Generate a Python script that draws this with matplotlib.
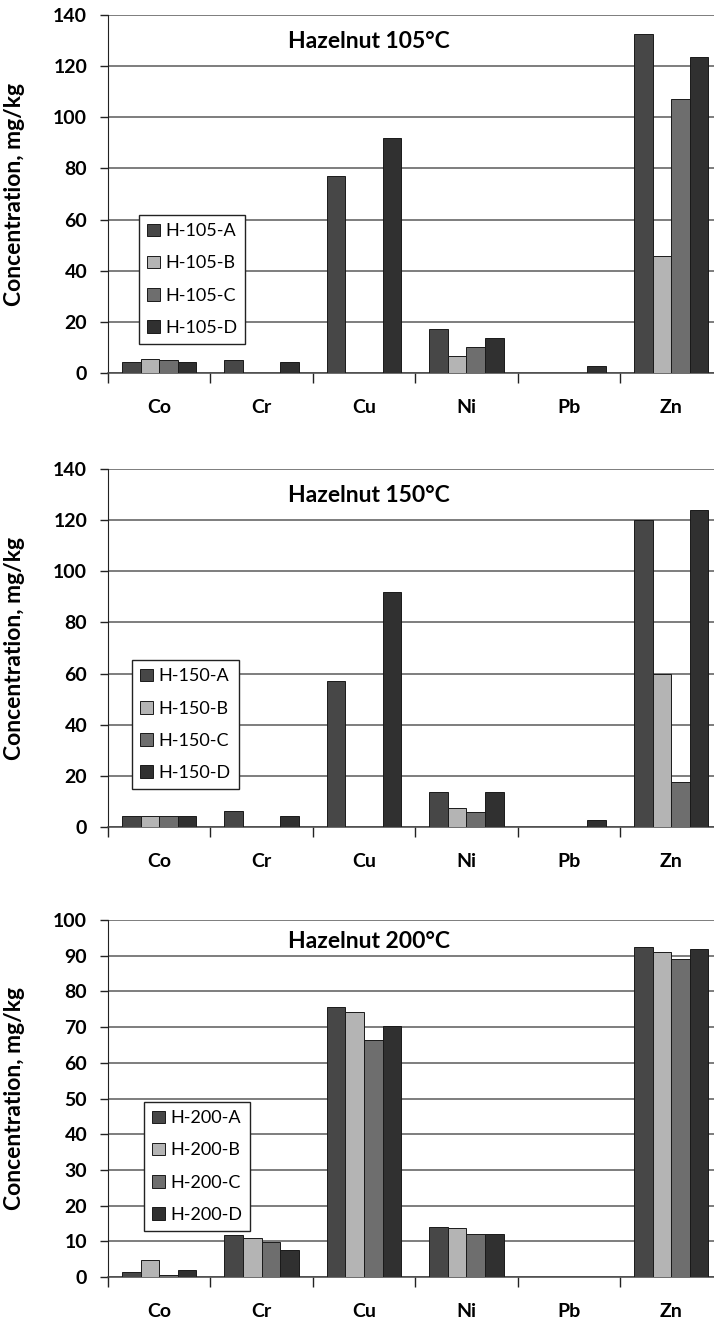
import matplotlib
matplotlib.use("Agg")
import matplotlib.pyplot as plt
import numpy as np

plt.rcParams['font.family'] = ['Lato', 'DejaVu Sans']

elements = ["Co", "Cr", "Cu", "Ni", "Pb", "Zn"]

# 105 C
h105_a = [4.3, 5.1, 77.1, 17.4, 0.0, 132.6]
h105_b = [5.6, 0.0, 0.0, 6.6, 0.0, 45.8]
h105_c = [5.1, 0.0, 0.0, 10.0, 0.0, 107.3]
h105_d = [4.3, 4.3, 91.9, 13.5, 2.6, 123.7]

# 150 C
h150_a = [4.4, 6.1, 56.9, 13.7, 0.0, 120.0]
h150_b = [4.4, 0.0, 0.0, 7.4, 0.0, 60.0]
h150_c = [4.4, 0.0, 0.0, 5.7, 0.0, 17.6]
h150_d = [4.4, 4.4, 91.8, 13.7, 2.9, 124.0]

# 200 C
h200_a = [1.4, 11.8, 75.5, 14.0, 0.0, 92.5]
h200_b = [4.7, 10.9, 74.3, 13.7, 0.0, 91.0]
h200_c = [0.6, 9.9, 66.3, 12.0, 0.0, 89.1]
h200_d = [2.1, 7.5, 70.4, 12.0, 0.0, 91.8]

colors = ["#474747", "#b4b4b4", "#6e6e6e", "#303030"]

W, H = 714, 1326


def draw_panel(rect, series, labels, title, ymax, ystep, leg_xy, title_y):
    ax = plt.gcf().add_axes(rect)
    n = len(series)
    bw = 1.0 / (n + 1.5)  # excel gap width 150%
    x = np.arange(len(elements))
    for j, (vals, lab) in enumerate(zip(series, labels)):
        ax.bar(x + 0.75 * bw + bw * (j + 0.5), vals, width=bw,
               color=colors[j], edgecolor="#1a1a1a", linewidth=0.7,
               label=lab, zorder=3)

    ax.set_xlim(0, (W - 108) / 102.4)
    ax.set_ylim(0, ymax)
    ax.set_yticks(np.arange(0, ymax + 0.1, ystep))
    ax.grid(axis="y", color="#5a5a5a", linewidth=1.1, zorder=0)

    ax.set_xticks(x + 0.5)
    ax.set_xticklabels(elements)
    ax.set_xticks(np.arange(0, len(elements)), minor=True)
    ax.tick_params(axis="x", which="major", length=0, pad=19,
                   labelsize=14)
    ax.tick_params(axis="x", which="minor", length=7, width=1,
                   color="#222222", direction="out")
    ax.tick_params(axis="y", length=6, width=1, color="#222222",
                   pad=9, labelsize=14)
    for t in ax.get_xticklabels() + ax.get_yticklabels():
        t.set_fontweight("bold")

    for s in ["top", "right"]:
        ax.spines[s].set_visible(False)
    ax.spines["left"].set_color("#222222")
    ax.spines["bottom"].set_color("#444444")
    ax.spines["bottom"].set_linewidth(1.1)

    ax.set_ylabel("Concentration, mg/kg", fontsize=16.5, fontweight="bold")
    ax.yaxis.set_label_coords(-(108 - 25) / (W - 108), 0.5)

    ax.text((369 - 108) / (W - 108), title_y, title, transform=ax.transAxes,
            ha="center", va="center", fontsize=16.5, fontweight="bold")

    leg = ax.legend(loc="upper left", bbox_to_anchor=leg_xy,
                    borderaxespad=0, fancybox=False, framealpha=1,
                    edgecolor="#222222", fontsize=13, labelspacing=0.9,
                    handlelength=0.7, handleheight=0.7, handletextpad=0.3,
                    borderpad=0.45)
    leg.get_frame().set_linewidth(1.0)
    leg.set_zorder(5)
    return ax


if __name__ == '__main__':
    fig = plt.figure(figsize=(W / 100, H / 100), dpi=100)

    left = 108 / W
    width = (W - 108) / W

    draw_panel([left, 1 - 373 / H, width, 358 / H],
               [h105_a, h105_b, h105_c, h105_d],
               ["H-105-A", "H-105-B", "H-105-C", "H-105-D"],
               "Hazelnut 105°C", 140, 20, (0.051, 0.441), 0.925)

    draw_panel([left, 1 - 827 / H, width, 358 / H],
               [h150_a, h150_b, h150_c, h150_d],
               ["H-150-A", "H-150-B", "H-150-C", "H-150-D"],
               "Hazelnut 150°C", 140, 20, (0.040, 0.466), 0.925)

    draw_panel([left, 1 - 1277 / H, width, 357 / H],
               [h200_a, h200_b, h200_c, h200_d],
               ["H-200-A", "H-200-B", "H-200-C", "H-200-D"],
               "Hazelnut 200°C", 100, 10, (0.059, 0.49), 0.941)

    fig.savefig("out.png", dpi=100)
